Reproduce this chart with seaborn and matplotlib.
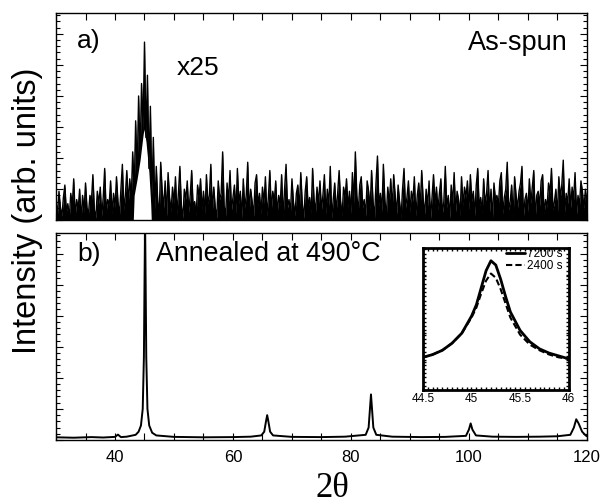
import numpy as np
import matplotlib
matplotlib.use("Agg")
import matplotlib.pyplot as plt
from matplotlib.ticker import MultipleLocator
import seaborn as sns

# a) as-spun scan, 30-120 deg, 0.25 deg steps (x25)
asspun_counts = [
    9, 3, 14, 6, 2, 11, 17, 4, 8, 1, 13, 7, 20, 2, 10, 5, 15, 0, 12, 4,
    18, 6, 3, 12, 9, 22, 5, 1, 14, 8, 16, 2, 11, 25, 4, 10, 7, 19, 3, 13,
    6, 21, 9, 2, 15, 27, 5, 12, 24, 8, 20, 10, 33, 14, 48, 22, 60, 31, 66, 43,
    86, 40, 70, 25, 55, 12, 40, 5, 26, 9, 3, 28, 14, 6, 19, 2, 23, 11, 4, 16,
    8, 21, 3, 13, 26, 7, 1, 15, 10, 19, 4, 12, 24, 6, 9, 2, 17, 11, 20, 5,
    14, 3, 22, 8, 12, 27, 4, 16, 6, 1, 19, 10, 13, 33, 7, 2, 18, 9, 24, 5,
    11, 17, 3, 25, 8, 14, 1, 20, 6, 12, 28, 4, 15, 9, 2, 18, 22, 7, 13, 3,
    16, 8, 21, 2, 11, 24, 5, 14, 9, 19, 3, 12, 7, 22, 1, 15, 27, 6, 10, 4,
    20, 9, 2, 13, 17, 5, 23, 8, 1, 14, 21, 6, 11, 3, 25, 10, 4, 16, 8, 19,
    5, 12, 22, 3, 15, 7, 26, 1, 10, 18, 4, 13, 24, 9, 2, 16, 11, 20, 6, 14,
    3, 23, 8, 33, 12, 4, 17, 21, 6, 10, 2, 19, 14, 5, 24, 9, 1, 18, 31, 7,
    13, 4, 27, 10, 2, 16, 8, 20, 5, 22, 12, 3, 17, 9, 1, 15, 25, 6, 11, 19,
    4, 14, 9, 21, 2, 12, 18, 6, 24, 10, 3, 15, 7, 19, 1, 11, 22, 8, 16, 5,
    13, 20, 3, 9, 26, 6, 12, 1, 17, 8, 23, 4, 14, 10, 2, 21, 7, 16, 11, 19,
    5, 22, 9, 14, 2, 17, 25, 6, 11, 3, 20, 8, 13, 24, 4, 15, 1, 18, 10, 12,
    7, 19, 23, 3, 11, 15, 28, 5, 9, 17, 1, 21, 12, 6, 14, 18, 26, 2, 10, 13,
    4, 20, 8, 16, 24, 1, 12, 14, 7, 19, 22, 3, 10, 6, 18, 13, 25, 5, 9, 15,
    2, 21, 11, 17, 29, 4, 13, 8, 20, 6, 16, 10, 23, 3, 12, 7, 19, 14, 5, 15,
    9,
]
asspun_angle = np.linspace(30, 120, len(asspun_counts))

# lower envelope of the noisy hump (the hollow under the x25 peak)
hump_floor_angle = [43.1, 43.25, 43.75, 44.25, 44.75, 44.9, 45.25, 45.75, 46.05, 46.15]
hump_floor = [0, 12, 20, 29, 41, 44, 38, 23, 8, 0]

# b) annealed at 490 C
annealed_angle = [30, 33, 36, 38, 40.0, 40.5, 41.0, 42, 43.5, 44.0, 44.4, 44.7,
                  44.9, 45.0, 45.1, 45.2, 45.3, 45.5, 45.8, 46.3, 47, 50, 55,
                  60, 63, 64.8, 65.3, 65.6, 65.8, 66.0, 66.3, 66.8, 70, 75, 79,
                  82.5, 83.0, 83.2, 83.4, 83.6, 83.8, 84.3, 87, 92, 96, 99.5,
                  100.0, 100.3, 100.6, 101.2, 104, 108, 112, 115, 117.2, 117.8,
                  118.2, 118.6, 119.2, 119.8, 120]
annealed_counts = [1.3, 1.1, 1.4, 1.2, 1.5, 2.6, 1.4, 1.6, 2.5, 4, 7, 15,
                   40, 75, 106, 75, 40, 15, 7, 3.5, 2.2, 1.5, 1.3,
                   1.4, 1.6, 2.2, 4, 9, 12, 9, 4, 2.2, 1.5, 1.4, 1.6,
                   2.5, 6, 14, 22, 14, 6, 2.5, 1.6, 1.4, 1.5, 2,
                   5, 8, 5, 2.2, 1.6, 1.5, 1.6, 1.8, 2.5, 6,
                   10, 8, 4, 2.2, 1.8]

# inset: 110 peak
inset_angle = [44.5, 44.6, 44.7, 44.8, 44.9, 45.0, 45.05, 45.1, 45.15, 45.2,
               45.25, 45.3, 45.35, 45.4, 45.5, 45.6, 45.7, 45.8, 45.9, 46.0]
counts_7200 = [23, 25, 28, 33, 40, 52, 60, 72, 84, 91,
               88, 78, 66, 55, 42, 34, 29, 26, 24, 22]
counts_2400 = [23, 25, 28, 33, 40, 51, 58, 68, 77, 82,
               79, 71, 61, 51, 39, 32, 28, 25, 23, 22]

sns.set_style("ticks")
plt.rcParams["font.family"] = ["Liberation Sans", "DejaVu Sans"]
plt.rcParams["text.color"] = "black"
plt.rcParams["xtick.color"] = "black"
plt.rcParams["ytick.color"] = "black"

fig = plt.figure(figsize=(6.05, 5.04), dpi=100)
ax_a = fig.add_axes([0.0926, 0.563, 0.8774, 0.411])
ax_b = fig.add_axes([0.0926, 0.127, 0.8774, 0.411])

# noise band reads as solid black under the trace, hollow under the hump
ax_a.fill_between(asspun_angle, 0, asspun_counts, color="black", lw=0, zorder=1)
ax_a.fill_between(hump_floor_angle, 0, hump_floor, color="white", lw=0, zorder=2)
sns.lineplot(x=asspun_angle, y=asspun_counts, ax=ax_a, color="black",
             lw=1.0, estimator=None, zorder=3)
sns.lineplot(x=annealed_angle, y=annealed_counts, ax=ax_b, color="black",
             lw=1.4, estimator=None)

for ax in (ax_a, ax_b):
    ax.set_xlim(30, 120)
    ax.set_ylim(0, 100)
    ax.xaxis.set_major_locator(MultipleLocator(20))
    ax.xaxis.set_minor_locator(MultipleLocator(5))
    ax.yaxis.set_major_locator(MultipleLocator(15))
    ax.yaxis.set_minor_locator(MultipleLocator(3))
    ax.tick_params(which="both", direction="in", top=True, right=True,
                   width=0.8, color="black")
    ax.tick_params(which="major", length=5)
    ax.tick_params(which="minor", length=3)
    ax.tick_params(axis="x", which="minor", length=5)
    ax.set_yticklabels([])
    ax.set_xlabel("")
    ax.set_ylabel("")
    for s in ax.spines.values():
        s.set_color("black")
        s.set_linewidth(1.0)
        s.set_zorder(4)

ax_a.set_xticklabels([])
ax_b.tick_params(axis="x", labelsize=12, pad=7, labelcolor="black")

ax_a.text(0.04, 0.865, "a)", transform=ax_a.transAxes, fontsize=19, va="center")
ax_a.text(0.267, 0.735, "x25", transform=ax_a.transAxes, fontsize=19,
          ha="center", va="center")
ax_a.text(0.964, 0.855, "As-spun", transform=ax_a.transAxes, fontsize=19.5,
          ha="right", va="center")
ax_b.text(0.04, 0.9, "b)", transform=ax_b.transAxes, fontsize=19, va="center")
ax_b.text(0.188, 0.9, "Annealed at 490°C", transform=ax_b.transAxes,
          fontsize=19.3, va="center")

fig.text(0.046, 0.581, "Intensity (arb. units)", rotation=90, fontsize=23.5,
         ha="center", va="center")
fig.text(0.549, 0.014, "2θ", fontsize=25, family=["Liberation Serif", "DejaVu Serif"],
         ha="center", va="baseline")

# inset
ax_in = fig.add_axes([0.699, 0.226, 0.241, 0.282])
sns.lineplot(x=inset_angle, y=counts_7200, ax=ax_in, color="black", lw=2.0,
             estimator=None, label="7200 s")
sns.lineplot(x=inset_angle, y=counts_2400, ax=ax_in, color="black", lw=1.5,
             estimator=None, label="2400 s", linestyle=(0, (3, 1.5)))
ax_in.set_xlim(44.5, 46)
ax_in.set_ylim(0, 100)
ax_in.set_xticks([44.5, 45, 45.5, 46])
ax_in.set_xticklabels(["44.5", "45", "45.5", "46"])
ax_in.xaxis.set_minor_locator(MultipleLocator(0.05))
ax_in.yaxis.set_major_locator(MultipleLocator(20))
ax_in.yaxis.set_minor_locator(MultipleLocator(3))
ax_in.tick_params(which="both", direction="in", top=True, right=True,
                  length=2.5, width=1.0, labelsize=8.5, pad=2, color="black")
ax_in.set_yticklabels([])
ax_in.set_xlabel("")
ax_in.set_ylabel("")
for s in ax_in.spines.values():
    s.set_color("black")
    s.set_linewidth(2.0)
leg = ax_in.legend(loc="upper right", bbox_to_anchor=(1.0, 1.04), frameon=False,
                   fontsize=8.5, handlelength=1.6, handletextpad=0.2,
                   labelspacing=0.0, borderaxespad=0.1)

fig.savefig("out.png", dpi=100)
